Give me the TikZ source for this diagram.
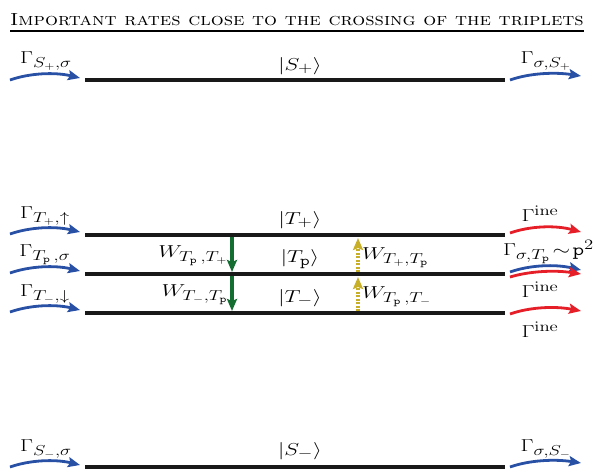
\documentclass[tikz,border=0pt]{standalone}
\usepackage{graphicx}
\usetikzlibrary{arrows.meta}
\DeclareMathSizes{18}{18}{13.5}{10}
\newcommand\hs[1]{\scalebox{1.3}[1]{#1}}
\definecolor{rblue}{RGB}{40,80,165}
\definecolor{rred}{RGB}{230,30,40}
\definecolor{rgreen}{RGB}{20,110,50}
\definecolor{ryellow}{RGB}{200,175,40}
\begin{document}
\begin{tikzpicture}[x=1pt,y=-1pt,
  level/.style={line width=4pt,black!90},
  tip/.style={-{Stealth[length=12pt,width=10pt,inset=2pt]}},
  rate/.style={line width=2.8pt,tip},
  lbl/.style={font=\fontsize{18}{22}\selectfont,inner sep=1pt},
  wdown/.style={line width=3.2pt,rgreen,tip},
  wup/.style={line width=3.6pt,ryellow,dash pattern=on 2pt off 1.5pt,-{Stealth[length=12pt,width=10pt,inset=2pt,fill=ryellow]}}]
\useasboundingbox (0,0) rectangle (594,469);
% title
\node[font=\fontsize{17.5}{21}\selectfont,inner sep=0pt,anchor=base] (title) at (297,25) {\scalebox{1.165}[1]{\textsc{Important rates close to the crossing of the triplets}}};
\draw[line width=1.4pt] (10,31) -- (584,31);
% levels
\foreach \n/\y in {Sp/80,Tp/235,Tz/274,Tm/313,Sm/467}{
  \coordinate (\n L) at (85,\y);
  \coordinate (\n R) at (505,\y);
  \draw[level] (\n L) -- (\n R);
}
% level labels
\node[lbl] (lSp) at (300,66) {\hs{$|S_+\rangle$}};
\node[lbl] (lTp) at (300,220) {\hs{$|T_+\rangle$}};
\node[lbl] (lTz) at (300,259) {\hs{$|T_{\mathtt{p}}\rangle$}};
\node[lbl] (lTm) at (300,298) {\hs{$|T_-\rangle$}};
\node[lbl] (lSm) at (300,451) {\hs{$|S_-\rangle$}};
% left incoming blue arrows
\foreach \n/\y in {a/78,b/232,c/271,d/310,e/465}{
  \coordinate (in\n s) at (10,\y+2);
  \coordinate (in\n e) at (80,\y);
  \draw[rate,rblue] (in\n s) .. controls (30,\y-5) and (55,\y-6) .. (in\n e);
}
\node[lbl] (ga) at (46,61) {\hs{$\Gamma_{S_+,\sigma}$}};
\node[lbl] (gb) at (45,216) {\hs{$\Gamma_{T_+,\uparrow}$}};
\node[lbl] (gc) at (45,255) {\hs{$\Gamma_{T_{\mathtt{p}}\,,\sigma}$}};
\node[lbl] (gd) at (45,294) {\hs{$\Gamma_{T_-,\downarrow}$}};
\node[lbl] (ge) at (46,449) {\hs{$\Gamma_{S_-,\sigma}$}};
% right outgoing arrows
\coordinate (oas) at (510,80); \coordinate (oae) at (581,76);
\draw[rate,rblue] (oas) .. controls (530,73) and (555,72) .. (oae);
\coordinate (oes) at (510,467); \coordinate (oee) at (581,463);
\draw[rate,rblue] (oes) .. controls (530,460) and (555,459) .. (oee);
\coordinate (obs) at (510,233); \coordinate (obe) at (581,232);
\draw[rate,rred] (obs) .. controls (530,226) and (555,225) .. (obe);
\coordinate (ocs) at (510,272); \coordinate (oce) at (581,270);
\draw[rate,rblue] (ocs) .. controls (530,265) and (555,264) .. (oce);
\coordinate (ods) at (510,277); \coordinate (ode) at (581,274);
\draw[rate,rred] (ods) .. controls (530,271) and (555,270) .. (ode);
\coordinate (ofs) at (510,314); \coordinate (ofe) at (581,311);
\draw[rate,rred] (ofs) .. controls (530,307) and (555,306) .. (ofe);
\node[lbl] (ra) at (546,61) {\hs{$\Gamma_{\sigma,S_+}$}};
\node[lbl] (re) at (546,449) {\hs{$\Gamma_{\sigma,S_-}$}};
\node[lbl] (rb) at (540,214) {\hs{$\Gamma^{\mathrm{ine}}$}};
\node[lbl,anchor=west] (rc) at (502,252) {\hs{$\Gamma_{\sigma,T_{\mathtt{p}}}\!\sim\!\mathtt{p}^2$}};
\node[lbl] (rd) at (540,290) {\hs{$\Gamma^{\mathrm{ine}}$}};
\node[lbl] (rf) at (540,330) {\hs{$\Gamma^{\mathrm{ine}}$}};
% transitions
\coordinate (g1s) at (232,237); \coordinate (g1e) at (232,272);
\coordinate (g2s) at (232,276); \coordinate (g2e) at (232,311);
\draw[wdown] (g1s) -- (g1e);
\draw[wdown] (g2s) -- (g2e);
\coordinate (y1s) at (358,272); \coordinate (y1e) at (358,238);
\coordinate (y2s) at (358,311); \coordinate (y2e) at (358,277);
\draw[wup] (y1s) -- (y1e);
\draw[wup] (y2s) -- (y2e);
\node[lbl,anchor=east] (w1) at (229,256) {\hs{$W_{T_{\mathtt{p}}\,,T_+}$}};
\node[lbl,anchor=east] (w2) at (229,295) {\hs{$W_{T_-,T_{\mathtt{p}}}$}};
\node[lbl,anchor=west] (w3) at (361,258) {\hs{$W_{T_+,T_{\mathtt{p}}}$}};
\node[lbl,anchor=west] (w4) at (361,297) {\hs{$W_{T_{\mathtt{p}}\,,T_-}$}};
\end{tikzpicture}
\end{document}
